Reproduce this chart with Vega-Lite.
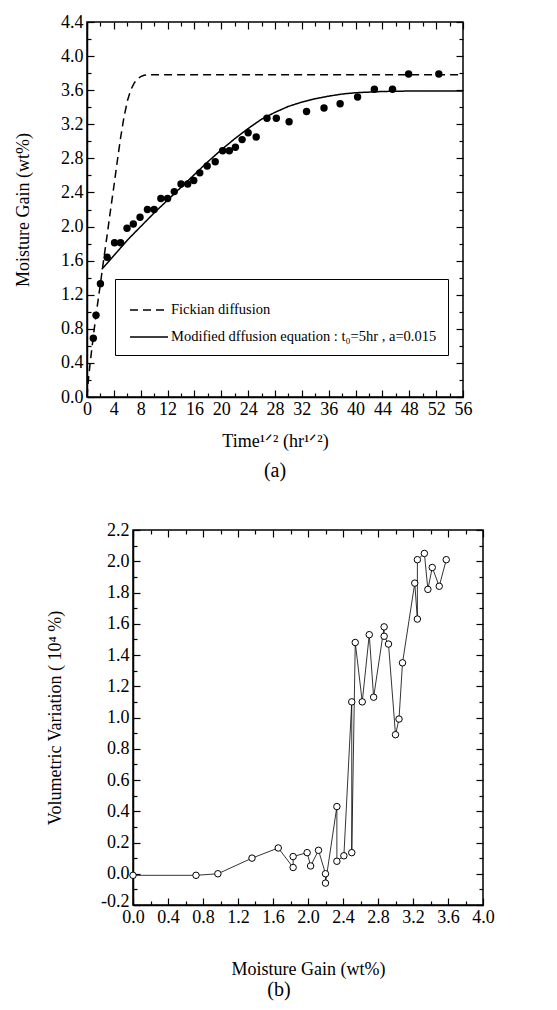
{
  "$schema": "https://vega.github.io/schema/vega-lite/v6.json",
  "background": "white",
  "padding": {"left": 12, "top": 12, "right": 5, "bottom": 5},
  "config": {
    "font": "Liberation Serif",
    "view": {"stroke": "black", "strokeWidth": 1.5},
    "axis": {"labelFont": "Liberation Serif", "labelFontSize": 18, "labelColor": "black", "labelFlush": false, "titleFont": "Liberation Serif", "titleFontSize": 18, "titleFontWeight": "normal", "titleColor": "black", "domainColor": "black", "domainWidth": 1.5, "tickColor": "black", "tickWidth": 1.2, "grid": false},
    "title": {"font": "Liberation Serif", "fontSize": 20, "fontWeight": "normal", "color": "black"}
  },
  "datasets": {
    "curves": [
      {"series": "Fickian diffusion", "t": 0, "gain": 0},
      {"series": "Fickian diffusion", "t": 0.2, "gain": 0.2},
      {"series": "Fickian diffusion", "t": 0.5, "gain": 0.42},
      {"series": "Fickian diffusion", "t": 1, "gain": 0.75},
      {"series": "Fickian diffusion", "t": 1.5, "gain": 1.05},
      {"series": "Fickian diffusion", "t": 2, "gain": 1.33},
      {"series": "Fickian diffusion", "t": 2.5, "gain": 1.62},
      {"series": "Fickian diffusion", "t": 3, "gain": 1.9},
      {"series": "Fickian diffusion", "t": 3.5, "gain": 2.19},
      {"series": "Fickian diffusion", "t": 4, "gain": 2.47},
      {"series": "Fickian diffusion", "t": 4.5, "gain": 2.76},
      {"series": "Fickian diffusion", "t": 5, "gain": 3.04},
      {"series": "Fickian diffusion", "t": 5.5, "gain": 3.28},
      {"series": "Fickian diffusion", "t": 6, "gain": 3.47},
      {"series": "Fickian diffusion", "t": 6.5, "gain": 3.6},
      {"series": "Fickian diffusion", "t": 7, "gain": 3.68},
      {"series": "Fickian diffusion", "t": 7.5, "gain": 3.73},
      {"series": "Fickian diffusion", "t": 8, "gain": 3.76},
      {"series": "Fickian diffusion", "t": 8.5, "gain": 3.775},
      {"series": "Fickian diffusion", "t": 9, "gain": 3.78},
      {"series": "Fickian diffusion", "t": 10, "gain": 3.78},
      {"series": "Fickian diffusion", "t": 20, "gain": 3.78},
      {"series": "Fickian diffusion", "t": 56, "gain": 3.78},
      {"series": "Modified dffusion equation : t₀=5hr , a=0.015", "t": 2.2, "gain": 1.5},
      {"series": "Modified dffusion equation : t₀=5hr , a=0.015", "t": 3, "gain": 1.57},
      {"series": "Modified dffusion equation : t₀=5hr , a=0.015", "t": 4, "gain": 1.66},
      {"series": "Modified dffusion equation : t₀=5hr , a=0.015", "t": 5, "gain": 1.75},
      {"series": "Modified dffusion equation : t₀=5hr , a=0.015", "t": 6, "gain": 1.84},
      {"series": "Modified dffusion equation : t₀=5hr , a=0.015", "t": 7, "gain": 1.92},
      {"series": "Modified dffusion equation : t₀=5hr , a=0.015", "t": 8, "gain": 2.0},
      {"series": "Modified dffusion equation : t₀=5hr , a=0.015", "t": 9, "gain": 2.08},
      {"series": "Modified dffusion equation : t₀=5hr , a=0.015", "t": 10, "gain": 2.16},
      {"series": "Modified dffusion equation : t₀=5hr , a=0.015", "t": 12, "gain": 2.31},
      {"series": "Modified dffusion equation : t₀=5hr , a=0.015", "t": 14, "gain": 2.46},
      {"series": "Modified dffusion equation : t₀=5hr , a=0.015", "t": 16, "gain": 2.61},
      {"series": "Modified dffusion equation : t₀=5hr , a=0.015", "t": 18, "gain": 2.76},
      {"series": "Modified dffusion equation : t₀=5hr , a=0.015", "t": 20, "gain": 2.9},
      {"series": "Modified dffusion equation : t₀=5hr , a=0.015", "t": 22, "gain": 3.03},
      {"series": "Modified dffusion equation : t₀=5hr , a=0.015", "t": 24, "gain": 3.15},
      {"series": "Modified dffusion equation : t₀=5hr , a=0.015", "t": 26, "gain": 3.26},
      {"series": "Modified dffusion equation : t₀=5hr , a=0.015", "t": 28, "gain": 3.34},
      {"series": "Modified dffusion equation : t₀=5hr , a=0.015", "t": 30, "gain": 3.41},
      {"series": "Modified dffusion equation : t₀=5hr , a=0.015", "t": 32, "gain": 3.46},
      {"series": "Modified dffusion equation : t₀=5hr , a=0.015", "t": 34, "gain": 3.5},
      {"series": "Modified dffusion equation : t₀=5hr , a=0.015", "t": 36, "gain": 3.53},
      {"series": "Modified dffusion equation : t₀=5hr , a=0.015", "t": 38, "gain": 3.555},
      {"series": "Modified dffusion equation : t₀=5hr , a=0.015", "t": 40, "gain": 3.57},
      {"series": "Modified dffusion equation : t₀=5hr , a=0.015", "t": 44, "gain": 3.585},
      {"series": "Modified dffusion equation : t₀=5hr , a=0.015", "t": 48, "gain": 3.59},
      {"series": "Modified dffusion equation : t₀=5hr , a=0.015", "t": 56, "gain": 3.59}
    ],
    "measured": [
      {"t": 0.94, "gain": 0.69}, {"t": 1.34, "gain": 0.96}, {"t": 2.0, "gain": 1.33}, {"t": 3.0, "gain": 1.64},
      {"t": 4.1, "gain": 1.81}, {"t": 5.0, "gain": 1.81}, {"t": 5.96, "gain": 1.98}, {"t": 6.9, "gain": 2.03},
      {"t": 7.9, "gain": 2.11}, {"t": 9.0, "gain": 2.2}, {"t": 10.0, "gain": 2.2}, {"t": 11.0, "gain": 2.33},
      {"t": 12.0, "gain": 2.33}, {"t": 13.0, "gain": 2.41}, {"t": 14.0, "gain": 2.5}, {"t": 15.0, "gain": 2.5},
      {"t": 15.9, "gain": 2.54}, {"t": 16.8, "gain": 2.63}, {"t": 17.9, "gain": 2.71}, {"t": 19.1, "gain": 2.76},
      {"t": 20.2, "gain": 2.89}, {"t": 21.2, "gain": 2.89}, {"t": 22.1, "gain": 2.93}, {"t": 23.1, "gain": 3.02},
      {"t": 24.0, "gain": 3.1}, {"t": 25.2, "gain": 3.05}, {"t": 26.8, "gain": 3.27}, {"t": 28.2, "gain": 3.27},
      {"t": 30.1, "gain": 3.23}, {"t": 32.7, "gain": 3.35}, {"t": 35.3, "gain": 3.39}, {"t": 37.7, "gain": 3.44},
      {"t": 40.3, "gain": 3.52}, {"t": 42.8, "gain": 3.61}, {"t": 45.5, "gain": 3.61}, {"t": 47.9, "gain": 3.79},
      {"t": 52.4, "gain": 3.79}
    ],
    "volume": [
      {"i": 0, "gain": 0.0, "vol": -0.01}, {"i": 1, "gain": 0.72, "vol": -0.01}, {"i": 2, "gain": 0.97, "vol": 0.0},
      {"i": 3, "gain": 1.36, "vol": 0.1}, {"i": 4, "gain": 1.66, "vol": 0.165}, {"i": 5, "gain": 1.83, "vol": 0.04},
      {"i": 6, "gain": 1.83, "vol": 0.11}, {"i": 7, "gain": 1.99, "vol": 0.135}, {"i": 8, "gain": 2.03, "vol": 0.05},
      {"i": 9, "gain": 2.12, "vol": 0.15}, {"i": 10, "gain": 2.2, "vol": 0.0}, {"i": 11, "gain": 2.2, "vol": -0.06},
      {"i": 12, "gain": 2.33, "vol": 0.43}, {"i": 13, "gain": 2.33, "vol": 0.08}, {"i": 14, "gain": 2.41, "vol": 0.115},
      {"i": 15, "gain": 2.5, "vol": 1.1}, {"i": 16, "gain": 2.5, "vol": 0.135}, {"i": 17, "gain": 2.54, "vol": 1.48},
      {"i": 18, "gain": 2.62, "vol": 1.1}, {"i": 19, "gain": 2.7, "vol": 1.53}, {"i": 20, "gain": 2.75, "vol": 1.13},
      {"i": 21, "gain": 2.87, "vol": 1.58}, {"i": 22, "gain": 2.87, "vol": 1.52}, {"i": 23, "gain": 2.92, "vol": 1.47},
      {"i": 24, "gain": 3.0, "vol": 0.89}, {"i": 25, "gain": 3.04, "vol": 0.99}, {"i": 26, "gain": 3.08, "vol": 1.35},
      {"i": 27, "gain": 3.22, "vol": 1.86}, {"i": 28, "gain": 3.25, "vol": 1.63}, {"i": 29, "gain": 3.25, "vol": 2.01},
      {"i": 30, "gain": 3.33, "vol": 2.05}, {"i": 31, "gain": 3.37, "vol": 1.82}, {"i": 32, "gain": 3.42, "vol": 1.96},
      {"i": 33, "gain": 3.5, "vol": 1.84}, {"i": 34, "gain": 3.58, "vol": 2.01}
    ]
  },
  "spacing": 38,
  "vconcat": [
    {
      "spacing": 0,
      "hconcat": [
        {"width": 1, "height": 10, "data": {"values": []}, "mark": "point", "view": {"stroke": null}},
        {
          "width": 376,
          "height": 375,
          "title": {"text": "(a)", "orient": "bottom", "frame": "group", "offset": 11},
          "layer": [
            {
              "data": {"name": "curves"},
              "mark": {"type": "line", "color": "black", "strokeWidth": 1.5},
              "encoding": {
                "x": {"field": "t", "type": "quantitative", "scale": {"domain": [0, 56], "nice": false},
                  "axis": {"orient": "bottom", "values": [0,2,4,6,8,10,12,14,16,18,20,22,24,26,28,30,32,34,36,38,40,42,44,46,48,50,52,54,56],
                    "labelExpr": "datum.value % 4 == 0 ? format(datum.value, 'd') : ''",
                    "tickSize": {"condition": {"test": "datum.value % 4 == 0", "value": -7}, "value": -4},
                    "labelPadding": 10, "title": "Time¹ᐟ²  (hr¹ᐟ²)", "titlePadding": 14}},
                "y": {"field": "gain", "type": "quantitative", "scale": {"domain": [0, 4.4], "nice": false},
                  "axis": {"orient": "left", "values": [0,0.2,0.4,0.6,0.8,1.0,1.2,1.4,1.6,1.8,2.0,2.2,2.4,2.6,2.8,3.0,3.2,3.4,3.6,3.8,4.0,4.2,4.4],
                    "labelExpr": "round(datum.value*10) % 4 == 0 ? format(datum.value, '.1f') : ''",
                    "tickSize": {"condition": {"test": "round(datum.value*10) % 4 == 0", "value": -7}, "value": -4},
                    "labelPadding": 11, "title": "Moisture Gain   (wt%)", "titlePadding": 28}},
                "strokeDash": {"field": "series", "type": "nominal",
                  "scale": {"domain": ["Fickian diffusion", "Modified dffusion equation : t₀=5hr , a=0.015"], "range": [[8, 5], [1, 0]]},
                  "legend": {"orient": "none", "legendX": 103, "legendY": 257, "title": null, "symbolType": "stroke", "symbolSize": 1444,
                    "symbolStrokeWidth": 1.5, "symbolStrokeColor": "black", "symbolOffset": 3, "labelFont": "Liberation Serif", "labelFontSize": 14.5,
                    "labelColor": "black", "labelLimit": 600, "fillColor": "white", "strokeColor": "black", "padding": 11, "rowPadding": -3, "labelOffset": 2}}
              }
            },
            {
              "data": {"name": "measured"},
              "mark": {"type": "circle", "color": "black", "size": 55, "opacity": 1},
              "encoding": {
                "x": {"field": "t", "type": "quantitative",
                  "axis": {"orient": "top", "values": [0,2,4,6,8,10,12,14,16,18,20,22,24,26,28,30,32,34,36,38,40,42,44,46,48,50,52,54,56],
                    "labels": false, "domain": false, "title": null,
                    "tickSize": {"condition": {"test": "datum.value % 4 == 0", "value": -7}, "value": -4}}},
                "y": {"field": "gain", "type": "quantitative",
                  "axis": {"orient": "right", "values": [0,0.2,0.4,0.6,0.8,1.0,1.2,1.4,1.6,1.8,2.0,2.2,2.4,2.6,2.8,3.0,3.2,3.4,3.6,3.8,4.0,4.2,4.4],
                    "labels": false, "domain": false, "title": null,
                    "tickSize": {"condition": {"test": "round(datum.value*10) % 4 == 0", "value": -7}, "value": -4}}}
              }
            }
          ]
        }
      ]
    },
    {
      "spacing": 0,
      "hconcat": [
        {"width": 33, "height": 10, "data": {"values": []}, "mark": "point", "view": {"stroke": null}},
        {
          "width": 350,
          "height": 375,
          "title": {"text": "(b)", "orient": "bottom", "frame": "group", "offset": 2, "dx": -29},
          "data": {"name": "volume"},
          "layer": [
            {
              "mark": {"type": "line", "color": "black", "strokeWidth": 0.8},
              "encoding": {
                "x": {"field": "gain", "type": "quantitative", "scale": {"domain": [0, 4], "nice": false},
                  "axis": {"orient": "bottom", "values": [0,0.2,0.4,0.6,0.8,1.0,1.2,1.4,1.6,1.8,2.0,2.2,2.4,2.6,2.8,3.0,3.2,3.4,3.6,3.8,4.0],
                    "labelExpr": "round(datum.value*10) % 4 == 0 ? format(datum.value, '.1f') : ''",
                    "tickSize": {"condition": {"test": "round(datum.value*10) % 4 == 0", "value": -7}, "value": -4},
                    "labelPadding": 10, "title": "Moisture Gain (wt%)", "titlePadding": 34}},
                "y": {"field": "vol", "type": "quantitative", "scale": {"domain": [-0.2, 2.2], "nice": false},
                  "axis": {"orient": "left", "values": [-0.2,-0.1,0,0.1,0.2,0.3,0.4,0.5,0.6,0.7,0.8,0.9,1.0,1.1,1.2,1.3,1.4,1.5,1.6,1.7,1.8,1.9,2.0,2.1,2.2],
                    "labelExpr": "abs(round(datum.value*10)) % 2 == 0 ? (datum.value < 0 ? '-' + format(-datum.value, '.1f') : format(datum.value, '.1f')) : ''",
                    "labelOffset": {"condition": {"test": "datum.value < -0.15", "value": -4}, "value": 0},
                    "tickSize": {"condition": {"test": "abs(round(datum.value*10)) % 2 == 0", "value": -7}, "value": -4},
                    "labelPadding": 11, "title": "Volumetric Variation ( 10⁴ %)", "titlePadding": 36}},
                "order": {"field": "i", "type": "quantitative"}
              }
            },
            {
              "mark": {"type": "circle", "size": 42, "fill": "white", "stroke": "black", "strokeWidth": 1, "opacity": 1},
              "encoding": {
                "x": {"field": "gain", "type": "quantitative",
                  "axis": {"orient": "top", "values": [0,0.2,0.4,0.6,0.8,1.0,1.2,1.4,1.6,1.8,2.0,2.2,2.4,2.6,2.8,3.0,3.2,3.4,3.6,3.8,4.0],
                    "labels": false, "domain": false, "title": null,
                    "tickSize": {"condition": {"test": "round(datum.value*10) % 4 == 0", "value": -7}, "value": -4}}},
                "y": {"field": "vol", "type": "quantitative",
                  "axis": {"orient": "right", "values": [-0.2,-0.1,0,0.1,0.2,0.3,0.4,0.5,0.6,0.7,0.8,0.9,1.0,1.1,1.2,1.3,1.4,1.5,1.6,1.7,1.8,1.9,2.0,2.1,2.2],
                    "labels": false, "domain": false, "title": null,
                    "tickSize": {"condition": {"test": "abs(round(datum.value*10)) % 2 == 0", "value": -7}, "value": -4}}}
              }
            }
          ]
        }
      ]
    }
  ]
}
